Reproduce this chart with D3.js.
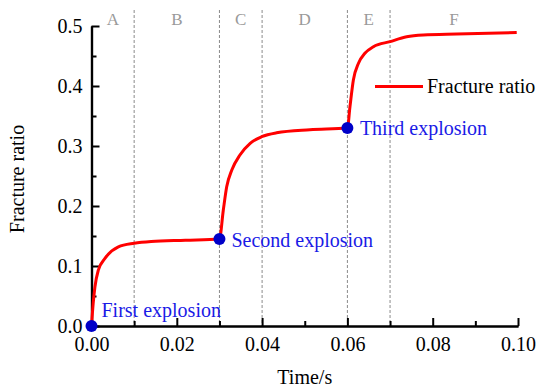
<!DOCTYPE html>
<html>
<head>
<meta charset="utf-8">
<script src="https://cdn.jsdelivr.net/npm/d3@7"></script>
<style>
  html, body { margin: 0; padding: 0; background: #fff; }
  svg { display: block; }
</style>
</head>
<body>
<svg id="chart" width="539" height="389"></svg>
<script>
// Fracture ratio over time for three successive blasts
const timeS = [0, 0.0004, 0.0008, 0.0016, 0.0032, 0.0063, 0.010, 0.014, 0.022, 0.030,
               0.0309, 0.0317, 0.0329, 0.0348, 0.0372, 0.0399, 0.0434, 0.0512, 0.060,
               0.0606, 0.0614, 0.0626, 0.0641, 0.0661, 0.070, 0.0739, 0.0778, 0.0856, 0.0997];
const fractureRatio = [0, 0.038, 0.065, 0.093, 0.113, 0.132, 0.138, 0.141, 0.143, 0.145,
                       0.193, 0.232, 0.26, 0.285, 0.3045, 0.3155, 0.322, 0.327, 0.33,
                       0.3655, 0.41, 0.438, 0.4545, 0.4655, 0.474, 0.482, 0.485, 0.4867, 0.489];

const explosionNames = ["First explosion", "Second explosion", "Third explosion"];
const explosionTimes = [0, 0.03, 0.06];
const explosionRatios = [0, 0.145, 0.33];

const stageBounds = [0.01, 0.03, 0.04, 0.06, 0.07];
const stageNames = ["A", "B", "C", "D", "E", "F"];
const stageCenters = [0.005, 0.02, 0.035, 0.05, 0.065, 0.085];

const xTicks = [0, 0.02, 0.04, 0.06, 0.08, 0.10];
const xMinor = [0.01, 0.03, 0.05, 0.07, 0.09];
const yTicks = [0, 0.1, 0.2, 0.3, 0.4, 0.5];
const yMinor = [0.05, 0.15, 0.25, 0.35, 0.45];

const FONT = "Liberation Serif";
const svg = d3.select("#chart").attr("font-family", FONT);
const plotL = 91.5, plotR = 518, plotT = 26, plotB = 326;

const x = d3.scaleLinear().domain([0, 0.1]).range([plotL, plotR]);
const y = d3.scaleLinear().domain([0, 0.5]).range([plotB, plotT]);

// stage separators
svg.append("g").selectAll("line").data(stageBounds).join("line")
  .attr("x1", d => x(d)).attr("x2", d => x(d))
  .attr("y1", 10).attr("y2", plotB)
  .attr("stroke", "#8a8a8a").attr("stroke-width", 1)
  .attr("stroke-dasharray", "3,2");

svg.append("g").selectAll("text").data(stageNames).join("text")
  .attr("x", (d, i) => x(stageCenters[i])).attr("y", 25)
  .attr("text-anchor", "middle").attr("font-family", FONT)
  .attr("font-size", 17).attr("fill", "#9a9a9a")
  .text(d => d);

// axes
const fmtX = d3.format(".2f"), fmtY = d3.format(".1f");
const xAxis = svg.append("g").attr("transform", `translate(0,${plotB})`)
  .call(d3.axisBottom(x).tickValues(xTicks).tickFormat(fmtX).tickSizeInner(-8).tickSizeOuter(0).tickPadding(11));
const xAxisMinor = svg.append("g").attr("transform", `translate(0,${plotB})`)
  .call(d3.axisBottom(x).tickValues(xMinor).tickFormat("").tickSizeInner(-5).tickSizeOuter(0));
const yAxis = svg.append("g").attr("transform", `translate(${plotL},0)`)
  .call(d3.axisLeft(y).tickValues(yTicks).tickFormat(fmtY).tickSizeInner(-8).tickSizeOuter(0).tickPadding(9));
const yAxisMinor = svg.append("g").attr("transform", `translate(${plotL},0)`)
  .call(d3.axisLeft(y).tickValues(yMinor).tickFormat("").tickSizeInner(-5).tickSizeOuter(0));

[xAxis, xAxisMinor, yAxis, yAxisMinor].forEach(g => {
  g.attr("font-family", FONT).attr("font-size", 20);
  g.select(".domain").attr("stroke", "#000").attr("stroke-width", 2.2);
  g.selectAll(".tick line").attr("stroke", "#000").attr("stroke-width", 2);
  g.selectAll(".tick text").attr("fill", "#000").attr("font-size", 20).attr("font-family", FONT);
});

svg.append("text")
  .attr("x", x(0.05)).attr("y", 384)
  .attr("text-anchor", "middle").attr("font-size", 20).attr("font-family", FONT)
  .text("Time/s");
svg.append("text")
  .attr("transform", `translate(24,${(plotT + plotB) / 2 + 3}) rotate(-90)`)
  .attr("text-anchor", "middle").attr("font-size", 20).attr("font-family", FONT)
  .text("Fracture ratio");

// curve
const pts = timeS.map((t, i) => [t, fractureRatio[i]]);
svg.append("path").datum(pts)
  .attr("fill", "none").attr("stroke", "#ff0000").attr("stroke-width", 3)
  .attr("stroke-linejoin", "round")
  .attr("d", d3.line().x(d => x(d[0])).y(d => y(d[1])).curve(d3.curveMonotoneX));

// legend
svg.append("line").attr("x1", 375).attr("x2", 423).attr("y1", 86.5).attr("y2", 86.5)
  .attr("stroke", "#ff0000").attr("stroke-width", 3);
svg.append("text").attr("x", 427).attr("y", 93).attr("font-size", 20).attr("font-family", FONT)
  .text("Fracture ratio");

// explosion markers
const labelOffsets = [[10, -9], [12, 7.5], [12.5, 7]];
svg.append("g").selectAll("circle").data(explosionTimes).join("circle")
  .attr("cx", d => x(d)).attr("cy", (d, i) => y(explosionRatios[i]))
  .attr("r", 6).attr("fill", "#0000c8");
svg.append("g").selectAll("text").data(explosionNames).join("text")
  .attr("x", (d, i) => x(explosionTimes[i]) + labelOffsets[i][0])
  .attr("y", (d, i) => y(explosionRatios[i]) + labelOffsets[i][1])
  .attr("font-size", 20).attr("font-family", FONT).attr("fill", "#1a1ae6")
  .text(d => d);
</script>
</body>
</html>
